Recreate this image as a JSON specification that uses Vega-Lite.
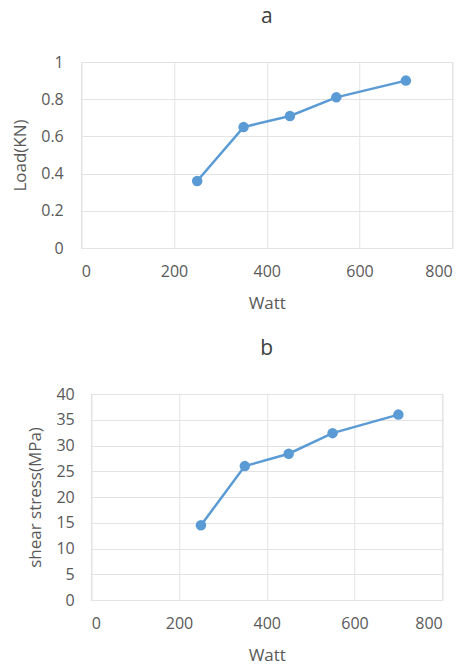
{
  "$schema": "https://vega.github.io/schema/vega-lite/v6.json",
  "padding": {"left": 11, "top": 5, "right": 5, "bottom": 0},
  "background": "white",
  "spacing": 25,
  "center": true,
  "config": {
    "font": "Open Sans",
    "view": {"stroke": "#d9d9d9", "strokeWidth": 1},
    "axis": {
      "domain": false,
      "ticks": false,
      "gridColor": "#e3e3e3",
      "gridWidth": 1,
      "labelColor": "#595959",
      "labelFontSize": 16,
      "labelFont": "Open Sans",
      "titleColor": "#595959",
      "titleFontSize": 17,
      "titleFontWeight": "normal",
      "titleFont": "Open Sans"
    },
    "title": {"fontSize": 21, "fontWeight": "normal", "color": "#404040", "font": "Open Sans", "offset": 27}
  },
  "datasets": {
    "a": [
      {"watt": 250, "load": 0.36},
      {"watt": 350, "load": 0.65},
      {"watt": 450, "load": 0.71},
      {"watt": 550, "load": 0.81},
      {"watt": 700, "load": 0.90}
    ],
    "b": [
      {"watt": 250, "shear": 14.5},
      {"watt": 350, "shear": 26},
      {"watt": 450, "shear": 28.4},
      {"watt": 550, "shear": 32.4},
      {"watt": 700, "shear": 36}
    ]
  },
  "vconcat": [
    {
      "title": "a",
      "width": 371,
      "height": 186,
      "data": {"name": "a"},
      "mark": {"type": "line", "color": "#5B9BD5", "strokeWidth": 2.5, "point": {"filled": true, "size": 110, "color": "#5B9BD5", "opacity": 1}},
      "encoding": {
        "x": {"field": "watt", "type": "quantitative", "scale": {"domain": [0, 800], "nice": false}, "axis": {"values": [0, 200, 400, 600, 800], "title": "Watt", "labelPadding": 15, "titlePadding": 16}},
        "y": {"field": "load", "type": "quantitative", "scale": {"domain": [0, 1], "nice": false}, "axis": {"values": [0, 0.2, 0.4, 0.6, 0.8, 1], "format": "~g", "title": "Load(KN)", "labelPadding": 18, "titlePadding": 11}}
      }
    },
    {
      "title": "b",
      "width": 351,
      "height": 206,
      "data": {"name": "b"},
      "mark": {"type": "line", "color": "#5B9BD5", "strokeWidth": 2.5, "point": {"filled": true, "size": 110, "color": "#5B9BD5", "opacity": 1}},
      "encoding": {
        "x": {"field": "watt", "type": "quantitative", "scale": {"domain": [0, 800], "nice": false}, "axis": {"values": [0, 200, 400, 600, 800], "title": "Watt", "labelPadding": 15, "titlePadding": 16}},
        "y": {"field": "shear", "type": "quantitative", "scale": {"domain": [0, 40], "nice": false}, "axis": {"values": [0, 5, 10, 15, 20, 25, 30, 35, 40], "title": "shear stress(MPa)", "labelPadding": 17, "titlePadding": 11}}
      }
    }
  ]
}
